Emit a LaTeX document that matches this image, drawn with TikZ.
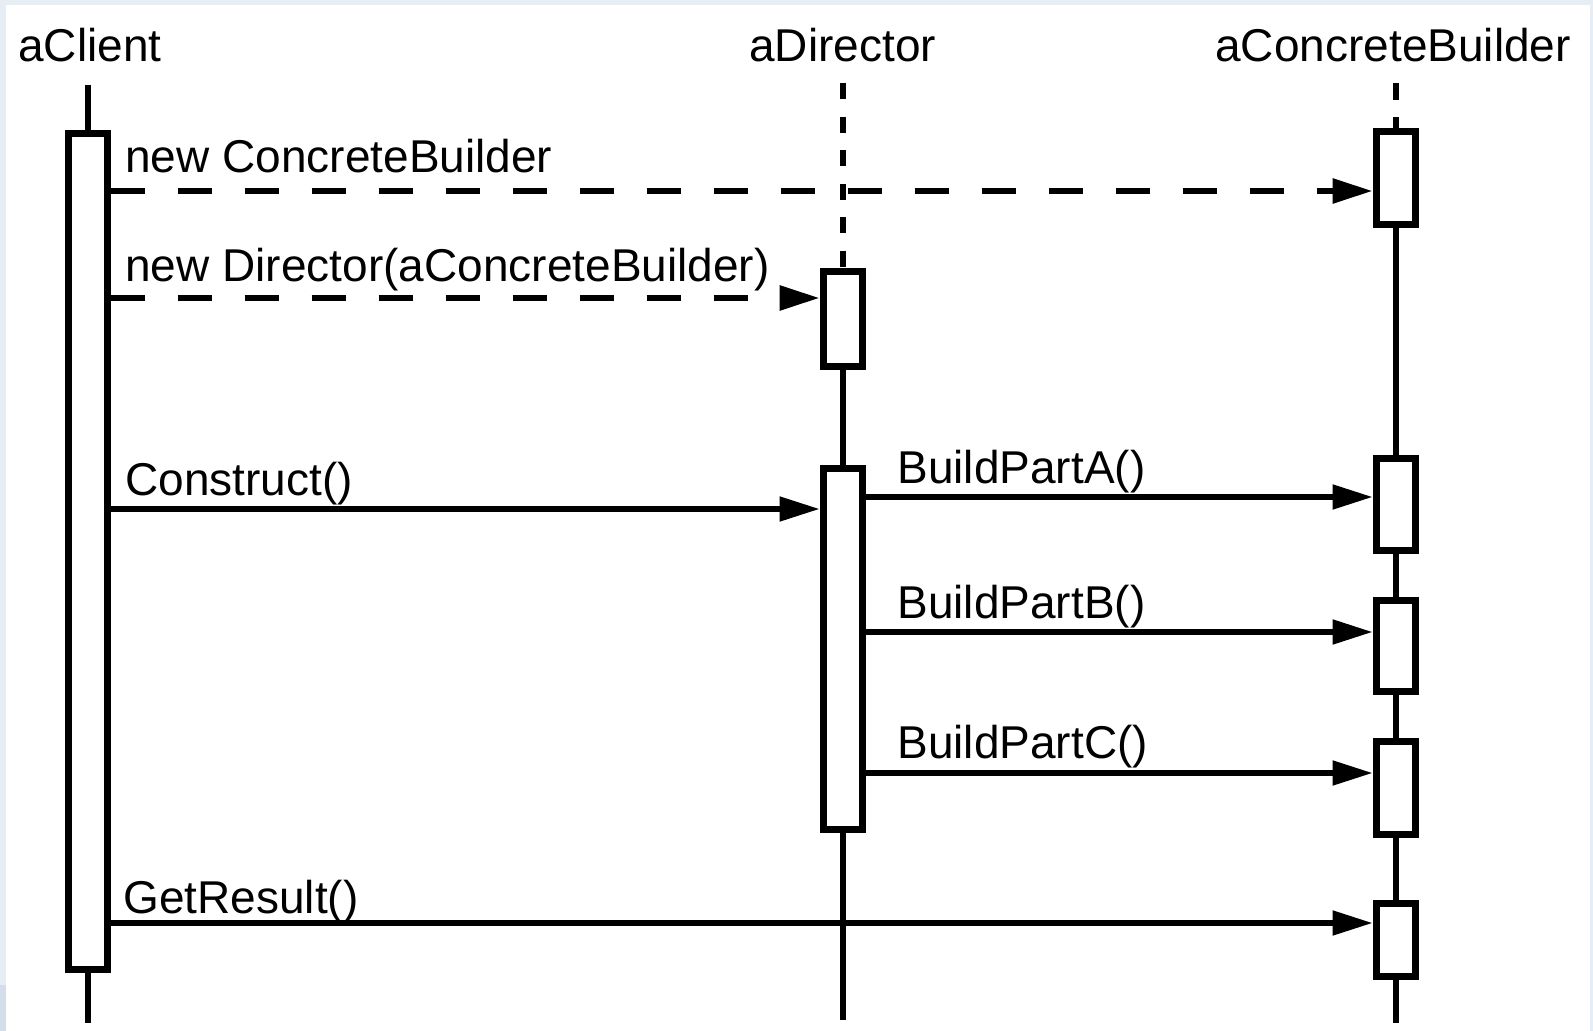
\documentclass[tikz,border=0pt]{standalone}
\usepackage{fontspec}
\setmainfont{Liberation Sans}
\usetikzlibrary{arrows.meta}
\definecolor{framebg}{HTML}{E6EDF5}
\definecolor{framedk}{HTML}{D3DEEA}

\begin{document}
\begin{tikzpicture}[x=0.5pt,y=-0.5pt,>={Triangle[length=20pt,width=12pt]},
        every node/.style={font=\fontsize{23}{27}\selectfont},
        obj/.style={anchor=base west,inner sep=0pt},
        act/.style={draw,fill=white,line width=3.5pt,minimum width=19.5pt,inner sep=0pt},
        life/.style={line width=2.8pt},
        msg/.style={->,line width=2.6pt},
        create/.style={->,line width=3pt,dash pattern=on 17pt off 16.5pt}]

  \useasboundingbox (0,0) rectangle (1593,1031);
  \fill[framebg] (0,0) rectangle (1593,1031);
  \fill[framedk] (0,985) rectangle (6,1031);
  \fill[white] (6,5) rectangle (1590,1031);

  \node[obj] (cl) at (18,62)   {aClient};
  \node[obj] (dr) at (749,62)  {aDirector};
  \node[obj] (cb) at (1215,62) {aConcreteBuilder};

  \coordinate (c0) at (88,85);   \coordinate (c1) at (88,1023);
  \coordinate (d0) at (843,83);  \coordinate (d1) at (843,1020);
  \coordinate (b0) at (1396,83); \coordinate (b1) at (1396,1023);

  \draw[life] (c0) -- (c1);
  \draw[life,dash pattern=on 8pt off 8.8pt] (d0) -- (843,268);
  \draw[life] (843,370) -- (d1);
  \draw[life,dash pattern=on 8.5pt off 8.5pt] (b0) -- (1396,128);
  \draw[life] (1396,228) -- (b1);

  \node[act,minimum height=418pt]   (C)  at (87.5,551.5) {};
  \node[act,minimum height=47.5pt]  (D1) at (842.5,319)  {};
  \node[act,minimum height=180.5pt] (D2) at (842.5,649)  {};
  \node[act,minimum height=46.5pt]  (B1) at (1395.5,178) {};
  \node[act,minimum height=46pt]    (B2) at (1395.5,504.5) {};
  \node[act,minimum height=45.5pt]  (B3) at (1395.5,646) {};
  \node[act,minimum height=46.5pt]  (B4) at (1395.5,788) {};
  \node[act,minimum height=36.5pt]  (B5) at (1395.5,940) {};

  \node[obj] (m1) at (125,173) {new ConcreteBuilder};
  \node[obj] (m2) at (125,282) {new Director(aConcreteBuilder)};
  \node[obj] (m3) at (125,495) {Construct()};
  \node[obj] (m4) at (897,483) {BuildPartA()};
  \node[obj] (m5) at (897,618) {BuildPartB()};
  \node[obj] (m6) at (897,758) {BuildPartC()};
  \node[obj] (m7) at (123,913) {GetResult()};

  \draw[create] (C.east |- 0,191)  -- (B1.west |- 0,191);
  \draw[create] (C.east |- 0,298)  -- (D1.west |- 0,298);
  \draw[msg]    (C.east |- 0,509)  -- (D2.west |- 0,509);
  \draw[msg]    (D2.east |- 0,497) -- (B2.west |- 0,497);
  \draw[msg]    (D2.east |- 0,632) -- (B3.west |- 0,632);
  \draw[msg]    (D2.east |- 0,773) -- (B4.west |- 0,773);
  \draw[msg]    (C.east |- 0,923)  -- (B5.west |- 0,923);

\end{tikzpicture}
\end{document}
